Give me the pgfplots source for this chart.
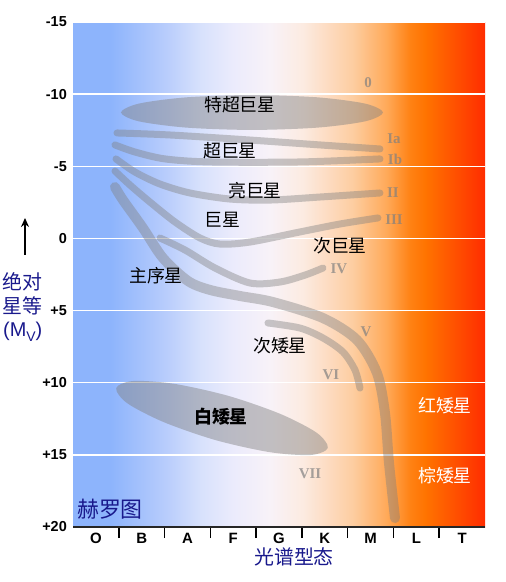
\documentclass[border=0pt]{standalone}
\usepackage{pgfplots}
\pgfplotsset{compat=1.18}
\usetikzlibrary{arrows.meta}
\usepackage{fontspec}
\setmainfont{Liberation Sans}
\newfontfamily\cjk{Noto Sans CJK SC}
\newfontfamily\rmnum{Liberation Serif}
\definecolor{navy}{RGB}{25,25,140}
\definecolor{g0}{RGB}{141,180,252}
\definecolor{g1}{RGB}{185,205,252}
\definecolor{g2}{RGB}{215,225,252}
\definecolor{g3}{RGB}{235,235,252}
\definecolor{g4}{RGB}{248,242,248}
\definecolor{g5}{RGB}{252,235,225}
\definecolor{g6}{RGB}{253,218,190}
\definecolor{g7}{RGB}{253,205,160}
\definecolor{g8}{RGB}{255,170,90}
\definecolor{g9}{RGB}{255,130,20}
\definecolor{g10}{RGB}{255,115,0}
\definecolor{g11}{RGB}{255,80,0}
\definecolor{g12}{RGB}{255,45,0}
\pgfdeclarehorizontalshading{hrbg}{100bp}{color(0bp)=(g0); color(25bp)=(g0); color(29.5bp)=(g0); color(36.4bp)=(g1); color(40.4bp)=(g2); color(44.4bp)=(g3); color(48.9bp)=(g4); color(52.9bp)=(g5); color(56.2bp)=(g6); color(59bp)=(g7); color(63bp)=(g8); color(65.9bp)=(g9); color(67.8bp)=(g10); color(71.4bp)=(g11); color(75bp)=(g12); color(100bp)=(g12)}
\pgfplotsset{
  strand/.style={draw=black!50, draw opacity=0.42, line width=7bp, line cap=round, line join=round, smooth, no marks},
  blob/.style={draw=none, fill=black!50, fill opacity=0.45, smooth cycle, no marks},
}
\newcommand{\lab}{\cjk\fontsize{18}{18}\selectfont}
\newcommand{\rn}{\rmnum\bfseries\fontsize{15}{15}\selectfont}
\begin{document}
\begin{tikzpicture}
\useasboundingbox (0,0) rectangle (506bp,582bp);
\begin{axis}[
  at={(73bp,55bp)}, anchor=south west,
  scale only axis, width=412bp, height=505bp,
  xmin=0, xmax=9, ymin=-15, ymax=20, y dir=reverse,
  clip=false,
  axis background/.style={shading=hrbg},
  axis line style={draw=none},
  xtick pos=bottom, ytick pos=left,
  xtick={0.5,1.5,2.5,3.5,4.5,5.5,6.5,7.5,8.5},
  xticklabels={O,B,A,F,G,K,M,L,T},
  ytick={-15,-10,-5,0,5,10,15,20},
  yticklabels={-15,-10,-5,0,+5,+10,+15,+20},
  major tick length=0pt,
  extra x ticks={1,2,3,4,5,6,7,8},
  extra x tick labels={},
  extra x tick style={xtick pos=bottom, major tick length=11bp, tick align=outside, tick style={line width=1.5bp, black}, grid=none},
  ymajorgrids, major grid style={white, line width=1.5bp},
  xticklabel style={font=\fontsize{15}{15}\selectfont\bfseries, inner sep=0pt, anchor=north, yshift=-6bp},
  yticklabel style={font=\fontsize{14.5}{14.5}\selectfont\bfseries, inner sep=0pt, anchor=east, xshift=-6bp},
]
% hypergiants (0)
\addplot[blob] coordinates {(6.772,-8.73) (6.388,-8.12) (5.341,-7.68) (3.910,-7.52) (2.479,-7.68) (1.432,-8.12) (1.048,-8.73) (1.432,-9.34) (2.479,-9.78) (3.910,-9.94) (5.341,-9.78) (6.388,-9.34)};
% white dwarfs (VII)
\addplot[blob] coordinates {(5.566,14.52) (5.190,15.01) (4.292,14.81) (3.117,13.98) (1.981,12.73) (1.184,11.42) (0.944,10.37) (1.319,9.88) (2.217,10.08) (3.392,10.91) (4.528,12.16) (5.325,13.47)};
% Ia
\addplot[strand] coordinates {(0.961,-7.31) (2.119,-7.17) (3.866,-6.82) (5.395,-6.48) (6.706,-6.20)};
% Ib
\addplot[strand] coordinates {(0.917,-6.48) (1.354,-5.99) (2.010,-5.51) (2.993,-5.30) (4.958,-5.30) (6.706,-5.51)};
% II
\addplot[strand] coordinates {(0.939,-5.51) (1.354,-4.60) (1.900,-3.77) (2.556,-3.15) (3.429,-2.73) (4.303,-2.66) (5.395,-2.87) (6.706,-3.15)};
% III
\addplot[strand] coordinates {(0.917,-4.67) (1.245,-3.70) (1.682,-2.52) (2.228,-1.14) (2.775,-0.03) (3.211,0.39) (3.866,0.25) (4.958,-0.45) (5.832,-1.00) (6.662,-1.42)};
% IV
\addplot[strand] coordinates {(1.900,-0.03) (2.446,0.80) (3.102,2.05) (3.866,3.09) (4.522,3.02) (5.068,2.54) (5.461,2.05)};
% V main sequence
\addplot[strand, line width=10bp] coordinates {(0.917,-3.56) (1.092,-2.66) (1.529,-0.72) (1.966,1.36) (2.512,2.95) (2.993,3.57) (3.648,3.99) (4.369,4.41) (5.461,5.52) (6.204,7.04) (6.640,9.33) (6.815,12.10) (6.903,15.56) (7.034,19.38)};
% VI
\addplot[strand] coordinates {(4.259,5.86) (4.958,6.21) (5.461,6.90) (5.898,7.87) (6.160,9.12) (6.269,10.37)};
% labels
\node[font=\lab] at (axis cs:3.648,-9.25) {特超巨星};
\node[font=\lab] at (axis cs:3.429,-6.06) {超巨星};
\node[font=\lab] at (axis cs:3.976,-3.29) {亮巨星};
\node[font=\lab] at (axis cs:3.255,-1.28) {巨星};
\node[font=\lab] at (axis cs:5.832,0.52) {次巨星};
\node[font=\lab] at (axis cs:1.813,2.60) {主序星};
\node[font=\lab] at (axis cs:4.522,7.46) {次矮星};
\node[font=\lab\bfseries] at (axis cs:3.233,12.38) {白矮星};
\node[font=\lab, text=white] at (axis cs:8.126,11.61) {红矮星};
\node[font=\lab, text=white] at (axis cs:8.126,16.47) {棕矮星};
\node[font=\cjk\fontsize{22}{22}\selectfont, text=navy] at (axis cs:0.808,18.75) {赫罗图};
\begin{scope}[every node/.style={font=\rn, text=black!50, text opacity=0.7}]
\node at (axis cs:6.444,-10.77) {0};
\node at (axis cs:7.012,-6.89) {Ia};
\node at (axis cs:7.034,-5.50) {Ib};
\node at (axis cs:6.990,-3.15) {II};
\node at (axis cs:7.012,-1.28) {III};
\node at (axis cs:5.810,2.12) {IV};
\node at (axis cs:6.400,6.49) {V};
\node at (axis cs:5.636,9.47) {VI};
\node at (axis cs:5.177,16.33) {VII};
\end{scope}
\draw[line width=1.8bp, black!85] (axis cs:0,20) -- (axis cs:9,20);
\end{axis}
% axis titles
\draw[line width=1.8bp, -{Stealth[length=9bp,width=8bp]}] (25bp,327bp) -- (25bp,364bp);
\node[anchor=west, inner sep=0pt, text=navy, font=\cjk\fontsize{20}{20}\selectfont] at (2bp,300bp) {绝对};
\node[anchor=west, inner sep=0pt, text=navy, font=\cjk\fontsize{20}{20}\selectfont] at (2bp,276bp) {星等};
\node[anchor=west, inner sep=0pt, text=navy, font=\fontsize{20}{20}\selectfont] at (3bp,250bp) {(M\raisebox{-0.25em}{\fontsize{14}{14}\selectfont V})};
\node[text=navy, font=\cjk\fontsize{20}{20}\selectfont] at (294bp,25bp) {光谱型态};
\end{tikzpicture}
\end{document}
